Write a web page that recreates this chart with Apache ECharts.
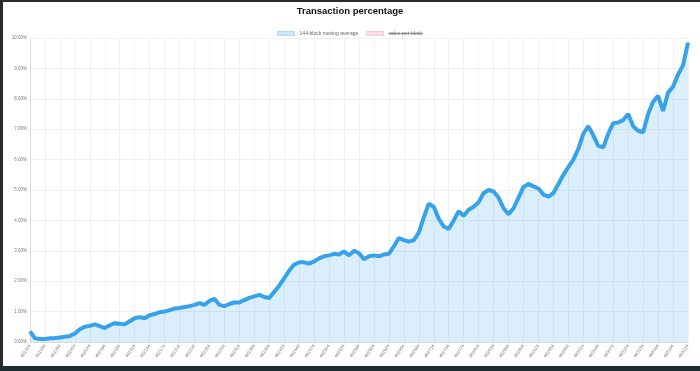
<!DOCTYPE html>
<html><head><meta charset="utf-8">
<script src="https://cdn.jsdelivr.net/npm/echarts@6/dist/echarts.min.js"></script>
<style>html,body{margin:0;padding:0;background:#fff}#c{width:700px;height:371px}</style>
</head><body><div id="c"></div>
<script>
const title = 'Transaction percentage';
const seriesNames = ['144-block moving average', 'value-per-block'];
const categories = [
'481904','481914','481924','481934','481944','481954','481964','481974','481984','481994',
'482004','482014','482024','482034','482044','482054','482064','482074','482084','482094',
'482104','482114','482124','482134','482144','482154','482164','482174','482184','482194',
'482204','482214','482224','482234','482244','482254','482264','482274','482284','482294',
'482304','482314','482324','482334','482344','482354','482364','482374','482384','482394',
'482404','482414','482424','482434','482444','482454','482464','482474','482484','482494',
'482504','482514','482524','482534','482544','482554','482564','482574','482584','482594',
'482604','482614','482624','482634','482644','482654','482664','482674','482684','482694',
'482704','482714','482724','482734','482744','482754','482764','482774','482784','482794',
'482804','482814','482824','482834','482844','482854','482864','482874','482884','482894',
'482904','482914','482924','482934','482944','482954','482964','482974','482984','482994',
'483004','483014','483024','483034','483044','483054','483064','483074','483084','483094',
'483104','483114','483124','483134','483144','483154','483164','483174','483184','483194',
'483204','483214','483224'];
const movingAverage = [
0.35,0.12,0.10,0.10,0.12,0.13,0.15,0.17,0.20,0.28,
0.42,0.50,0.53,0.58,0.52,0.46,0.55,0.62,0.60,0.58,
0.68,0.78,0.82,0.78,0.88,0.92,0.98,1.00,1.05,1.10,
1.12,1.15,1.18,1.22,1.28,1.22,1.35,1.42,1.22,1.18,
1.25,1.30,1.30,1.38,1.45,1.50,1.55,1.48,1.45,1.65,
1.85,2.10,2.35,2.55,2.62,2.62,2.58,2.65,2.75,2.82,
2.85,2.90,2.88,2.98,2.85,3.00,2.92,2.72,2.82,2.85,
2.82,2.88,2.90,3.15,3.42,3.35,3.30,3.35,3.60,4.10,
4.55,4.45,4.05,3.80,3.72,4.00,4.30,4.15,4.35,4.45,
4.60,4.90,5.00,4.95,4.75,4.40,4.20,4.40,4.75,5.10,
5.20,5.12,5.05,4.85,4.78,4.90,5.20,5.50,5.75,6.00,
6.35,6.85,7.10,6.80,6.45,6.40,6.85,7.20,7.22,7.30,
7.50,7.10,6.95,6.90,7.50,7.90,8.10,7.60,8.20,8.40,
8.80,9.10,9.85];
const valuePerBlock = [];
const yTicks = {min: 0, max: 10, interval: 1};

const chart = echarts.init(document.getElementById('c'), null, {renderer: 'canvas'});
const FONT = '"Liberation Sans", Arial, sans-serif';
chart.setOption({
  animation: false,
  backgroundColor: '#fff',
  title: {text: title, left: 'center', top: 1,
    textStyle: {fontFamily: FONT, fontSize: 9.5, fontWeight: 'bold', color: '#111'}},
  legend: {
    top: 26, left: 'center', itemWidth: 17, itemHeight: 4, itemGap: 8,
    textStyle: {fontFamily: FONT, fontSize: 5, color: '#666'},
    data: [
      {name: seriesNames[0], icon: 'rect', itemStyle: {color: 'rgba(54,162,235,0.25)', borderColor: 'rgba(54,162,235,0.6)', borderWidth: 0.5}},
      {name: seriesNames[1], icon: 'rect', itemStyle: {color: 'rgba(255,99,132,0.2)', borderColor: 'rgba(255,99,132,0.6)', borderWidth: 0.5}}
    ]
  },
  grid: {left: 30, right: 12, top: 38, bottom: 29, containLabel: false},
  xAxis: {
    type: 'category', data: categories, boundaryGap: false,
    axisLine: {lineStyle: {color: '#ddd'}},
    axisTick: {show: false},
    axisLabel: {interval: 2, rotate: 55, fontSize: 4.5, color: '#777', fontFamily: FONT, margin: 3},
    splitLine: {show: true, interval: 2, lineStyle: {color: '#ececec', width: 0.8}}
  },
  yAxis: {
    type: 'value', min: yTicks.min, max: yTicks.max, interval: yTicks.interval,
    axisLine: {show: true, lineStyle: {color: '#ddd'}},
    axisTick: {show: false},
    axisLabel: {fontSize: 4.5, color: '#777', fontFamily: FONT, margin: 3,
      formatter: v => v.toFixed(2) + '%'},
    splitLine: {lineStyle: {color: '#ececec', width: 0.8}}
  },
  series: [
    {name: seriesNames[0], type: 'line', data: movingAverage, showSymbol: false,
      smooth: false, lineStyle: {color: '#36a2eb', width: 4},
      itemStyle: {color: '#36a2eb'},
      areaStyle: {color: 'rgba(54,162,235,0.26)'}},
    {name: seriesNames[1], type: 'line', data: valuePerBlock, showSymbol: false,
      lineStyle: {color: 'rgba(255,99,132,0.6)'}, itemStyle: {color: 'rgba(255,99,132,0.6)'}}
  ],
  graphic: [
    {type: 'rect', shape: {x: 0, y: 0, width: 700, height: 2}, style: {fill: '#2a2a2a'}, silent: true},
    {type: 'rect', shape: {x: 0, y: 0, width: 3, height: 371}, style: {fill: '#2a2a2a'}, silent: true},
    {type: 'rect', shape: {x: 0, y: 366, width: 700, height: 5}, style: {fill: '#1f2b33'}, silent: true}
  ]
});
// strike-through for the hidden dataset label, placed from the rendered legend
setTimeout(() => {
  const legendModel = chart.getModel().getComponent('legend');
  const view = chart.getViewOfComponentModel(legendModel);
  let rect = null;
  view.group.traverse(el => {
    if (el.type === 'text' && el.style && el.style.text === seriesNames[1]) {
      const r = el.getBoundingRect().clone();
      r.applyTransform(el.getComputedTransform());
      rect = r;
    }
  });
  if (rect) {
    chart.setOption({graphic: [{}, {}, {}, {type: 'line', silent: true,
      shape: {x1: rect.x, y1: rect.y + rect.height / 2, x2: rect.x + rect.width, y2: rect.y + rect.height / 2},
      style: {stroke: '#666', lineWidth: 0.6}}]});
  }
}, 0);
</script></body></html>
